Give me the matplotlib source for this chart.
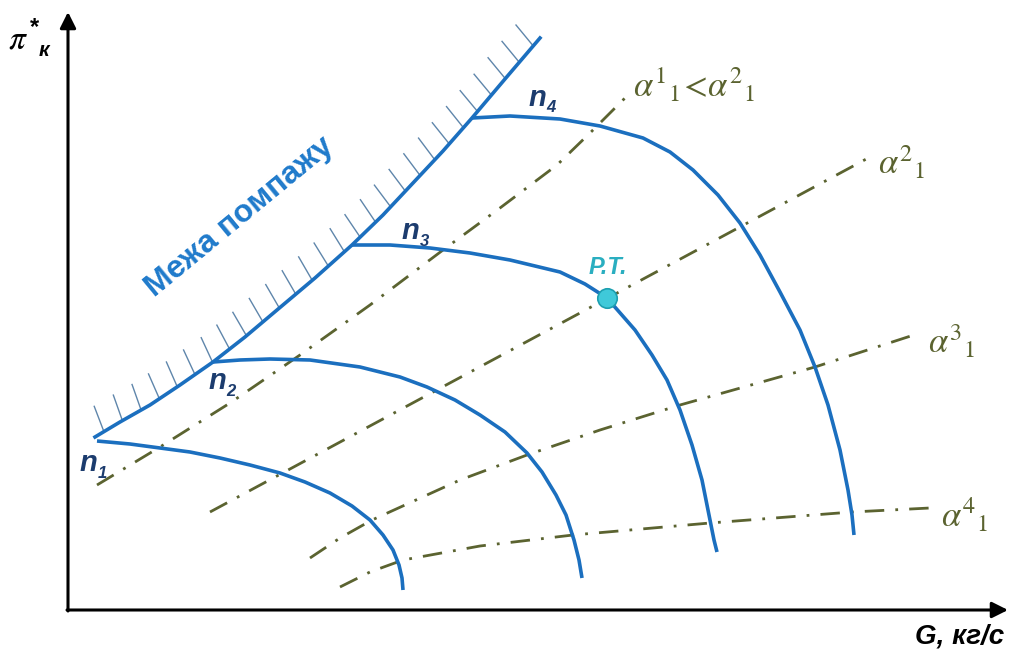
#!/usr/bin/env python3
"""Compressor map: speed lines, surge boundary and throttle lines."""

import matplotlib.pyplot as plt
import matplotlib.patheffects as pe

# surge boundary (G, pi)
surge_g = [2.7, 5.2, 8.2, 11.2, 14.5, 17.7, 20.9, 24.7, 28.4, 31.5, 34.5,
           37.5, 40.4, 43.7, 47.2]
surge_pi = [17.3, 18.8, 20.5, 22.5, 24.8, 27.3, 30.0, 33.2, 36.5, 39.5, 42.7,
            45.9, 49.2, 53.1, 57.2]

# constant speed lines n1..n4
n1_g = [2.9, 6.2, 9.2, 12.2, 15.2, 18.2, 21.2, 23.7, 26.2, 28.4, 30.2, 31.5,
        32.5, 33.1, 33.4, 33.5]
n1_pi = [16.9, 16.6, 16.2, 15.8, 15.2, 14.5, 13.7, 12.8, 11.7, 10.4, 9.0, 7.5,
         6.0, 4.5, 3.2, 2.0]
n2_g = [14.5, 17.2, 20.2, 24.2, 29.2, 33.2, 35.9, 38.7, 41.2, 43.7, 45.9,
        47.4, 48.8, 49.8, 50.6, 51.1, 51.4]
n2_pi = [24.8, 25.0, 25.1, 25.0, 24.3, 23.3, 22.3, 21.0, 19.5, 17.8, 15.7,
         13.8, 11.5, 9.5, 7.0, 5.0, 3.2]
n3_g = [28.4, 32.2, 36.2, 40.2, 44.2, 49.2, 51.7, 53.9, 56.7, 58.4, 59.9,
        61.2, 62.4, 63.4, 64.2, 64.6, 64.9]
n3_pi = [36.5, 36.5, 36.2, 35.7, 35.0, 33.8, 32.6, 31.2, 28.0, 25.5, 23.0,
         20.0, 16.5, 13.0, 9.0, 7.0, 5.8]
n4_g = [40.4, 44.2, 49.2, 53.2, 57.5, 60.2, 62.5, 65.0, 67.2, 69.2, 71.2,
        73.2, 74.7, 76.0, 77.2, 78.0, 78.4, 78.6]
n4_pi = [49.2, 49.4, 49.1, 48.4, 47.2, 45.8, 44.0, 41.5, 38.7, 35.5, 31.8,
         28.0, 24.3, 20.5, 16.0, 12.0, 9.5, 7.5]

# throttle lines alpha1..alpha4
a1_g = [2.9, 9.2, 16.2, 23.2, 30.2, 37.5, 43.2, 48.9, 52.2, 55.7]
a1_pi = [12.5, 16.3, 20.7, 25.5, 30.5, 36.0, 40.2, 44.5, 47.7, 51.2]
a2_g = [14.2, 80.2]
a2_pi = [9.8, 45.3]
a3_g = [24.2, 27.2, 30.4, 39.2, 45.9, 53.2, 61.2, 74.7, 85.2]
a3_pi = [5.2, 7.2, 9.0, 13.0, 15.5, 18.0, 20.5, 24.3, 27.7]
a4_g = [27.2, 30.2, 33.5, 41.2, 50.5, 64.2, 78.4, 86.2]
a4_pi = [2.3, 3.8, 5.0, 6.4, 7.5, 8.7, 9.8, 10.2]

# operating point
pt_g = 53.9
pt_pi = 31.2

speed_labels = ['1', '2', '3', '4']
speed_label_pos = [(2.0, 14.7), (14.9, 22.9), (34.2, 37.9), (46.9, 51.2)]
alpha_labels = [
    r'$\alpha^{\mathit{1}}{}_{\mathit{1}}\!<\!\alpha^{\mathit{2}}{}_{\mathit{1}}$',
    r'$\alpha^{\mathit{2}}{}_{\mathit{1}}$',
    r'$\alpha^{\mathit{3}}{}_{\mathit{1}}$',
    r'$\alpha^{\mathit{4}}{}_{\mathit{1}}$']
alpha_label_pos = [(56.5, 52.5), (81.0, 44.8), (86.0, 26.9), (87.3, 9.5)]

BLUE = '#1b6fbf'
OLIVE = '#5b6330'
NAVY = '#1c3c6e'


def compressor_map():
    """Draw the map and save it to out.png"""
    plt.rcParams['font.family'] = ['Liberation Sans', 'DejaVu Sans']
    plt.rcParams['mathtext.fontset'] = 'stix'

    fig = plt.figure(figsize=(10.14, 6.59), dpi=100)
    ax = fig.add_axes([0, 0, 1, 1])
    ax.set_xlim(-6.8, 94.6)
    ax.set_ylim(-4.9, 61.0)
    ax.axis('off')

    # axes with arrows
    arrow = dict(arrowstyle='-|>', lw=2.2, color='black', mutation_scale=24,
                 shrinkA=0, shrinkB=0)
    ax.annotate('', xy=(94.0, 0), xytext=(-0.1, 0), arrowprops=arrow)
    ax.annotate('', xy=(0, 59.8), xytext=(0, -0.1), arrowprops=arrow)

    # dash-dot throttle lines
    dashdot = (0, (7, 4, 1, 4))
    for g, p in [(a1_g, a1_pi), (a2_g, a2_pi), (a3_g, a3_pi), (a4_g, a4_pi)]:
        ax.plot(g, p, color=OLIVE, lw=2.0, linestyle=dashdot, zorder=2)

    # speed lines
    for g, p in [(n1_g, n1_pi), (n2_g, n2_pi), (n3_g, n3_pi), (n4_g, n4_pi)]:
        ax.plot(g, p, color=BLUE, lw=2.6, solid_joinstyle='round',
                solid_capstyle='butt', zorder=3)

    # surge line with hatching on the unstable side
    ax.plot(surge_g, surge_pi, color=BLUE, lw=2.6, solid_joinstyle='round',
            zorder=3,
            path_effects=[pe.TickedStroke(spacing=15, angle=80, length=1.3,
                                          linewidth=1.0,
                                          foreground='#5f86ab'),
                          pe.Normal()])

    ax.plot(pt_g, pt_pi, 'o', ms=14, mfc='#3fc9d9', mec='#1c9fb0',
            mew=1.2, zorder=5)
    ax.text(pt_g + 0.1, pt_pi + 3.0, 'P.T.', color='#2aaec0', fontsize=17,
            fontweight='bold', style='italic', ha='center', va='center')

    ax.text(17.2, 39.3, 'Межа помпажу', color='#1f7acb', fontsize=23,
            fontweight='bold', rotation=39.5, ha='center', va='center',
            rotation_mode='anchor')

    for lab, (x, y) in zip(speed_labels, speed_label_pos):
        ax.text(x, y, 'n', color=NAVY, fontsize=21, fontweight='bold',
                style='italic', ha='center', va='center')
        ax.text(x + 1.4, y - 1.0, lab, color=NAVY, fontsize=12,
                fontweight='bold', style='italic', ha='center', va='center')

    for lab, (x, y) in zip(alpha_labels, alpha_label_pos):
        ax.text(x, y, lab, color=OLIVE, fontsize=25, ha='left', va='center')

    # axis titles
    ax.text(-5.0, 57.0, r'$\pi$', fontsize=24, ha='center', va='center')
    ax.text(-3.3, 58.2, '*', fontsize=17, fontweight='bold',
            ha='center', va='center')
    ax.text(-2.4, 56.0, 'к', fontsize=15, fontweight='bold', style='italic',
            ha='center', va='center')
    ax.text(89.2, -2.6, 'G, кг/с', fontsize=20, fontweight='bold',
            style='italic', ha='center', va='center')

    fig.savefig('out.png', dpi=100)
    plt.close(fig)


def main():
    """Build the chart"""
    compressor_map()


if __name__ == "__main__":
    main()
